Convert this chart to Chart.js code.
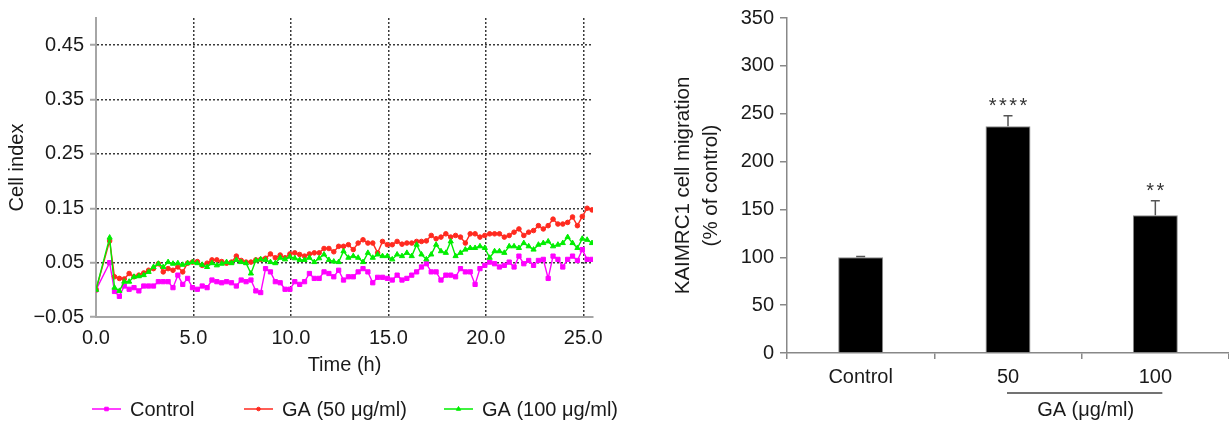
<!DOCTYPE html>
<html>
<head>
<meta charset="utf-8">
<script src="https://cdn.jsdelivr.net/npm/chart.js@4.4.0/dist/chart.umd.min.js"></script>
<style>
  html, body { margin: 0; padding: 0; background: #fff; }
  body { width: 1229px; height: 424px; position: relative; overflow: hidden; }
  .panel { position: absolute; top: 0; height: 424px; }
  #left { left: 0; width: 640px; }
  #right { left: 640px; width: 589px; }
</style>
</head>
<body>
<div class="panel" id="left"><canvas id="indexChart"></canvas></div>
<div class="panel" id="right"><canvas id="migrationChart"></canvas></div>
<script>
// ---- left panel: real-time cell index ----
const hours = [
  0, 0.7, 0.95, 1.2, 1.45, 1.7, 1.95, 2.2, 2.45, 2.7, 2.95,
  3.2, 3.45, 3.7, 3.95, 4.2, 4.45, 4.7, 4.95, 5.2, 5.45,
  5.7, 5.95, 6.2, 6.45, 6.7, 6.95, 7.2, 7.45, 7.7, 7.95,
  8.2, 8.45, 8.7, 8.95, 9.2, 9.45, 9.7, 9.95, 10.2, 10.45,
  10.7, 10.95, 11.2, 11.45, 11.7, 11.95, 12.2, 12.45, 12.7, 12.95,
  13.2, 13.45, 13.7, 13.95, 14.2, 14.45, 14.7, 14.95, 15.2, 15.45,
  15.7, 15.95, 16.2, 16.45, 16.7, 16.95, 17.2, 17.45, 17.7, 17.95,
  18.2, 18.45, 18.7, 18.95, 19.2, 19.45, 19.7, 19.95, 20.2, 20.45,
  20.7, 20.95, 21.2, 21.45, 21.7, 21.95, 22.2, 22.45, 22.7, 22.95,
  23.2, 23.45, 23.7, 23.95, 24.2, 24.45, 24.7, 24.95, 25.2, 25.45,
];
const control = [
  0.000, 0.050, -0.003, -0.012, 0.007, 0.001, 0.004, -0.002, 0.007, 0.007, 0.007,
  0.015, 0.015, 0.015, 0.004, 0.027, 0.010, 0.021, 0.004, 0.001, 0.007,
  0.004, 0.018, 0.015, 0.013, 0.015, 0.013, 0.007, 0.018, 0.015, 0.018,
  -0.002, -0.005, 0.039, 0.033, 0.015, 0.013, 0.001, 0.001, 0.015, 0.010,
  0.015, 0.030, 0.021, 0.021, 0.033, 0.030, 0.024, 0.036, 0.018, 0.024,
  0.024, 0.033, 0.039, 0.033, 0.013, 0.023, 0.023, 0.021, 0.018, 0.027,
  0.018, 0.021, 0.027, 0.033, 0.042, 0.048, 0.033, 0.033, 0.018, 0.027,
  0.027, 0.024, 0.039, 0.033, 0.033, 0.010, 0.039, 0.045, 0.051, 0.048,
  0.042, 0.045, 0.051, 0.042, 0.062, 0.048, 0.054, 0.045, 0.054, 0.056,
  0.021, 0.062, 0.056, 0.042, 0.056, 0.062, 0.054, 0.074, 0.056, 0.056,
];
const ga50 = [
  0.000, 0.090, 0.024, 0.021, 0.020, 0.030, 0.024, 0.027, 0.031, 0.036, 0.039,
  0.048, 0.033, 0.039, 0.036, 0.042, 0.033, 0.049, 0.051, 0.052, 0.045,
  0.049, 0.055, 0.055, 0.052, 0.049, 0.051, 0.062, 0.054, 0.051, 0.051,
  0.055, 0.056, 0.058, 0.066, 0.059, 0.064, 0.059, 0.066, 0.068, 0.065,
  0.062, 0.066, 0.068, 0.068, 0.076, 0.076, 0.070, 0.080, 0.080, 0.083,
  0.074, 0.086, 0.092, 0.086, 0.086, 0.068, 0.089, 0.083, 0.083, 0.089,
  0.084, 0.086, 0.086, 0.089, 0.089, 0.090, 0.100, 0.094, 0.097, 0.103,
  0.097, 0.100, 0.097, 0.086, 0.103, 0.103, 0.097, 0.100, 0.103, 0.103,
  0.103, 0.097, 0.100, 0.106, 0.112, 0.100, 0.106, 0.109, 0.118, 0.112,
  0.118, 0.130, 0.121, 0.121, 0.124, 0.134, 0.118, 0.135, 0.150, 0.147,
];
const ga100 = [
  0.000, 0.096, 0.004, -0.002, 0.015, 0.015, 0.024, 0.025, 0.027, 0.033, 0.042,
  0.048, 0.042, 0.051, 0.048, 0.049, 0.046, 0.049, 0.051, 0.049, 0.046,
  0.042, 0.049, 0.045, 0.048, 0.051, 0.049, 0.055, 0.051, 0.049, 0.030,
  0.054, 0.056, 0.055, 0.051, 0.049, 0.059, 0.056, 0.061, 0.058, 0.055,
  0.055, 0.059, 0.051, 0.058, 0.065, 0.055, 0.052, 0.051, 0.071, 0.059,
  0.062, 0.059, 0.051, 0.068, 0.059, 0.065, 0.062, 0.062, 0.056, 0.065,
  0.062, 0.068, 0.062, 0.083, 0.065, 0.056, 0.065, 0.083, 0.071, 0.068,
  0.089, 0.062, 0.068, 0.074, 0.077, 0.077, 0.080, 0.077, 0.059, 0.071,
  0.071, 0.068, 0.080, 0.080, 0.077, 0.086, 0.080, 0.074, 0.083, 0.086,
  0.089, 0.080, 0.083, 0.086, 0.097, 0.086, 0.077, 0.094, 0.092, 0.086,
];
const hourTicks = [0, 5, 10, 15, 20, 25];
const indexTicks = [-0.05, 0.05, 0.15, 0.25, 0.35, 0.45];

// ---- right panel: migration bars ----
const groups = ['Control', '50', '100'];
const migration = [100, 237, 144];
const migrationErr = [0.8, 11, 15];
const stars = ['', '****', '**'];

const FONT = "'Liberation Sans', Arial, Helvetica, sans-serif";
const INK = '#1a1a1a';
const AXIS = '#a6a6a6';
const font = (size) => ({ family: FONT, size });

function toPoints(values) {
  return hours.map((h, i) => ({ x: h, y: values[i] }));
}

const seriesKey = {
  id: 'seriesKey',
  afterDraw(chart, args, opts) {
    const { ctx } = chart;
    ctx.save();
    chart.data.datasets.forEach((ds, i) => {
      const x = opts.starts[i];
      const y = opts.y;
      ctx.strokeStyle = ds.borderColor;
      ctx.fillStyle = ds.borderColor;
      ctx.lineWidth = 1.5;
      ctx.beginPath();
      ctx.moveTo(x, y);
      ctx.lineTo(x + 29, y);
      ctx.stroke();
      ctx.lineWidth = 1;
      Chart.helpers.drawPoint(ctx, { pointStyle: ds.pointStyle, radius: ds.pointRadius - 0.5, borderWidth: 1 }, x + 14.5, y);
      ctx.fillStyle = INK;
      ctx.font = `20px ${FONT}`;
      ctx.textBaseline = 'middle';
      ctx.textAlign = 'left';
      ctx.fillText(ds.label, x + 38, y + 1);
    });
    ctx.restore();
  },
};

new Chart(document.getElementById('indexChart'), {
  type: 'line',
  data: {
    datasets: [
      { label: 'Control', data: toPoints(control), borderColor: '#ff00ff', backgroundColor: '#ff00ff', pointStyle: 'rect', pointRadius: 3, order: 2 },
      { label: 'GA (50 μg/ml)', data: toPoints(ga50), borderColor: '#ff2a1f', backgroundColor: '#ff2a1f', pointStyle: 'circle', pointRadius: 2.3, order: 1 },
      { label: 'GA (100 μg/ml)', data: toPoints(ga100), borderColor: '#00ee00', backgroundColor: '#00ee00', pointStyle: 'triangle', pointRadius: 3, order: 0 },
    ],
  },
  options: {
    responsive: true,
    maintainAspectRatio: false,
    animation: false,
    layout: { padding: { top: 5, right: 47, bottom: 0, left: 0 } },
    elements: {
      line: { borderWidth: 1.4, tension: 0 },
      point: { borderWidth: 1, hoverRadius: 3 },
    },
    plugins: {
      legend: { display: false },
      tooltip: { enabled: false },
      seriesKey: { starts: [92, 244, 444], y: 409 },
    },
    scales: {
      x: {
        type: 'linear',
        min: 0,
        max: 25.5,
        afterBuildTicks: (s) => { s.ticks = hourTicks.map((v) => ({ value: v })); },
        afterFit: (s) => { s.height = 107; },
        ticks: { font: font(20), color: INK, padding: 9, maxRotation: 0, callback: (v) => v.toFixed(1) },
        grid: { color: (c) => (c.index === 0 ? 'transparent' : '#3a3a3a'), lineWidth: 1.5, drawTicks: false },
        border: { color: AXIS, width: 2, dash: [2, 2] },
        title: { display: true, text: 'Time (h)', font: font(20), color: INK, padding: { top: 0, bottom: 47 } },
      },
      y: {
        min: -0.05,
        max: 0.5,
        afterBuildTicks: (s) => { s.ticks = indexTicks.map((v) => ({ value: v })); },
        afterFit: (s) => { s.width = 96; },
        ticks: { font: font(20), color: INK, padding: 6, callback: (v) => v.toFixed(2).replace('-', '\u2212') },
        grid: { color: (c) => (c.index === 0 ? 'transparent' : '#3a3a3a'), lineWidth: 1.5, tickLength: 6, tickColor: AXIS, tickWidth: 2 },
        border: { color: AXIS, width: 2, dash: [2, 2] },
        title: { display: true, text: 'Cell index', font: font(20), color: INK, padding: { top: 5 } },
      },
    },
  },
  plugins: [seriesKey],
});

const barNotes = {
  id: 'barNotes',
  afterDatasetsDraw(chart) {
    const { ctx, scales: { x, y } } = chart;
    const bars = chart.getDatasetMeta(0).data;
    ctx.save();
    ctx.strokeStyle = '#555';
    ctx.lineWidth = 1.5;
    bars.forEach((bar, i) => {
      const top = y.getPixelForValue(migration[i]);
      const end = y.getPixelForValue(migration[i] + migrationErr[i]);
      ctx.beginPath();
      ctx.moveTo(bar.x, top);
      ctx.lineTo(bar.x, end);
      ctx.moveTo(bar.x - 4.5, end);
      ctx.lineTo(bar.x + 4.5, end);
      ctx.stroke();
      // significance asterisks, spaced one by one
      const n = stars[i].length;
      ctx.fillStyle = '#333';
      ctx.font = `20px ${FONT}`;
      ctx.textAlign = 'center';
      ctx.textBaseline = 'alphabetic';
      for (let k = 0; k < n; k++) {
        ctx.fillText('*', bar.x + (k - (n - 1) / 2) * 10.2, end - 3.5);
      }
    });
    // GA dose bracket under the axis
    const x1 = x.getPixelForValue(1);
    const x2 = x.getPixelForValue(2);
    ctx.strokeStyle = '#444';
    ctx.beginPath();
    ctx.moveTo(x1 - 1, 393);
    ctx.lineTo(x2 + 7, 393);
    ctx.stroke();
    ctx.fillStyle = INK;
    ctx.font = `20px ${FONT}`;
    ctx.textAlign = 'center';
    ctx.textBaseline = 'middle';
    ctx.fillText('GA (μg/ml)', (x1 + x2) / 2 + 4, 410);
    ctx.restore();
  },
};

new Chart(document.getElementById('migrationChart'), {
  type: 'bar',
  data: {
    labels: groups,
    datasets: [{
      data: migration,
      backgroundColor: '#000',
      borderColor: '#8a8a8a',
      borderWidth: 1,
      barPercentage: 0.305,
      categoryPercentage: 1,
    }],
  },
  options: {
    responsive: true,
    maintainAspectRatio: false,
    animation: false,
    layout: { padding: { top: 15, right: 0, bottom: 0, left: 0 } },
    plugins: { legend: { display: false }, tooltip: { enabled: false } },
    scales: {
      x: {
        afterFit: (s) => { s.height = 71; },
        ticks: { font: font(20), color: INK, padding: 6 },
        grid: { offset: true, drawOnChartArea: false, tickLength: 6, color: '#888', lineWidth: 1.5 },
        border: { color: '#888', width: 1.5 },
      },
      y: {
        min: 0,
        max: 350,
        afterFit: (s) => { s.width = 147; },
        ticks: { stepSize: 50, font: font(20), color: INK, padding: 6 },
        grid: { drawOnChartArea: false, tickLength: 7, color: '#888', lineWidth: 1.5 },
        border: { color: '#888', width: 1.5 },
        title: {
          display: true,
          text: ['KAIMRC1 cell migration', '(% of control)'],
          font: { family: FONT, size: 20.5, lineHeight: 1.38 },
          color: INK,
          padding: { top: 29 },
        },
      },
    },
  },
  plugins: [barNotes],
});
</script>
</body>
</html>
